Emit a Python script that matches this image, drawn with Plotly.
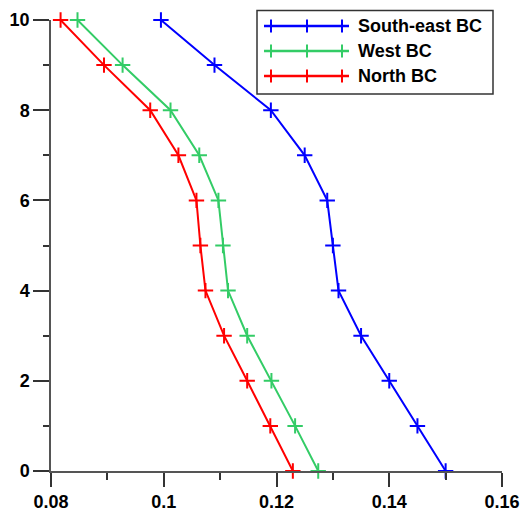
import plotly.graph_objects as go

depth = [10, 9, 8, 7, 6, 5, 4, 3, 2, 1, 0]
south_east = [0.0995, 0.109, 0.119, 0.125, 0.129, 0.130, 0.131, 0.135, 0.140, 0.145, 0.150]
west = [0.0847, 0.0927, 0.1012, 0.1063, 0.1097, 0.1105, 0.1114, 0.1148, 0.1191, 0.1233, 0.1274]
north = [0.0817, 0.0894, 0.0976, 0.1026, 0.1058, 0.1065, 0.1074, 0.1107, 0.1148, 0.1189, 0.1229]

series = [
    ("South-east BC", south_east, "#0000FF"),
    ("West BC", west, "#33CC66"),
    ("North BC", north, "#FF0000"),
]

W, H = 521, 516
L, R, T, B = 51, 19, 20, 45
PW, PH = W - L - R, H - T - B


def px(x):
    return (x - L) / PW


def py(y):
    return (H - B - y) / PH


fig = go.Figure()
for name, vals, color in series:
    fig.add_trace(go.Scatter(
        x=vals, y=depth, name=name, mode="lines+markers",
        line=dict(color=color, width=2),
        marker=dict(symbol="cross-thin", size=11, line=dict(color=color, width=2)),
        cliponaxis=False, showlegend=False,
    ))

font = dict(family="Liberation Sans, Arial, sans-serif", size=18, color="black", weight="bold")

# custom legend (box, sample lines with three crosses, labels)
shapes = [dict(type="rect", xref="paper", yref="paper",
               x0=px(257), x1=px(493), y0=py(94), y1=py(10.5),
               line=dict(color="#333333", width=1.5), fillcolor="white", layer="above")]
annotations = []
row_y = [26, 51, 76]
for (name, vals, color), ry in zip(series, row_y):
    shapes.append(dict(type="line", xref="paper", yref="paper",
                       x0=px(264), x1=px(349), y0=py(ry), y1=py(ry),
                       line=dict(color=color, width=2.5), layer="above"))
    for cx in (271, 307, 342):
        shapes.append(dict(type="line", xref="paper", yref="paper",
                           x0=px(cx), x1=px(cx), y0=py(ry - 6.5), y1=py(ry + 6.5),
                           line=dict(color=color, width=2), layer="above"))
    annotations.append(dict(xref="paper", yref="paper", x=px(356), y=py(ry),
                            xanchor="left", yanchor="middle", text=name,
                            showarrow=False, font=font))

fig.update_layout(
    width=W, height=H,
    margin=dict(l=L, r=R, t=T, b=B),
    plot_bgcolor="white", paper_bgcolor="white",
    font=font,
    showlegend=False,
    shapes=shapes, annotations=annotations,
    xaxis=dict(range=[0.08, 0.16], dtick=0.02, tick0=0.08, automargin=False,
               showline=True, linecolor="#555555", linewidth=1.5,
               ticks="outside", ticklen=14, tickcolor="#333333", tickwidth=1.5,
               minor=dict(dtick=0.01, ticks="outside", ticklen=7, tickcolor="#333333"),
               showgrid=False, zeroline=False, tickfont=font),
    yaxis=dict(range=[0, 10], dtick=2, tick0=0, automargin=False,
               showline=True, linecolor="#555555", linewidth=1.5,
               ticks="outside", ticklen=16, tickcolor="#333333", tickwidth=1.5,
               minor=dict(dtick=1, ticks="outside", ticklen=6, tickcolor="#333333"),
               showgrid=False, zeroline=False, tickfont=font),
)

fig.write_html("out.html",
               config={"displayModeBar": False},
               post_script="document.body.style.margin='0';document.body.style.padding='0';"
                           "document.body.style.overflow='hidden';")
